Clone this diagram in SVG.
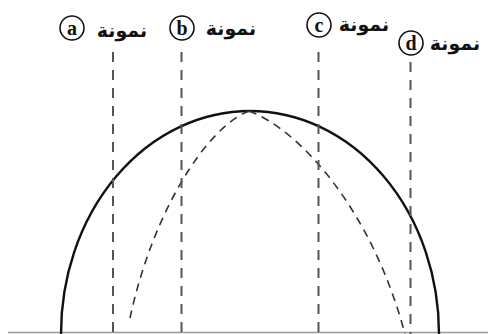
<svg xmlns="http://www.w3.org/2000/svg" width="488" height="334" viewBox="0 0 488 334">
<style>
.lbl{font-family:"DejaVu Sans",sans-serif;font-size:19px;font-weight:bold;fill:#111;text-anchor:middle}
.let{font-family:"Liberation Serif",serif;font-size:20px;font-weight:bold;fill:#111;text-anchor:middle}
.circ{fill:#fff;stroke:#111;stroke-width:1.6}
.vl{stroke:#555;stroke-width:2;stroke-dasharray:10 8;fill:none}
.dc{stroke:#333;stroke-width:1.6;stroke-dasharray:8 6;fill:none}
</style>
<rect width="488" height="334" fill="#fff"/>
<g id="base">
<line x1="8" y1="332.5" x2="488" y2="332.5" stroke="#999" stroke-width="1.5"/>
<path d="M61,334 A189,223 0 0 1 439,334" fill="none" stroke="#111" stroke-width="2.4"/>
<path class="dc" d="M249,111 C205,128 152,215 130,318"/>
<path class="dc" d="M249,111 C300,130 372,210 405,334"/>
</g>
<g id="connectors">
<line class="vl" x1="113" y1="52" x2="113" y2="334"/>
<line class="vl" x1="181.5" y1="52" x2="181.5" y2="334"/>
<line class="vl" x1="318.5" y1="52" x2="318.5" y2="334"/>
<line class="vl" x1="410.5" y1="62" x2="410.5" y2="334"/>
</g>
<g id="node-a">
<circle class="circ" cx="72" cy="28" r="12"/>
<text class="let" x="72" y="34.5">a</text>
<text class="lbl" x="122" y="37">نمونة</text>
</g>
<g id="node-b">
<circle class="circ" cx="182" cy="28" r="12"/>
<text class="let" x="182" y="35">b</text>
<text class="lbl" x="231" y="35">نمونة</text>
</g>
<g id="node-c">
<circle class="circ" cx="319" cy="25" r="12"/>
<text class="let" x="319" y="31.5">c</text>
<text class="lbl" x="364" y="31">نمونة</text>
</g>
<g id="node-d">
<circle class="circ" cx="411" cy="43" r="12"/>
<text class="let" x="411" y="50">d</text>
<text class="lbl" x="455" y="50">نمونة</text>
</g>
</svg>
